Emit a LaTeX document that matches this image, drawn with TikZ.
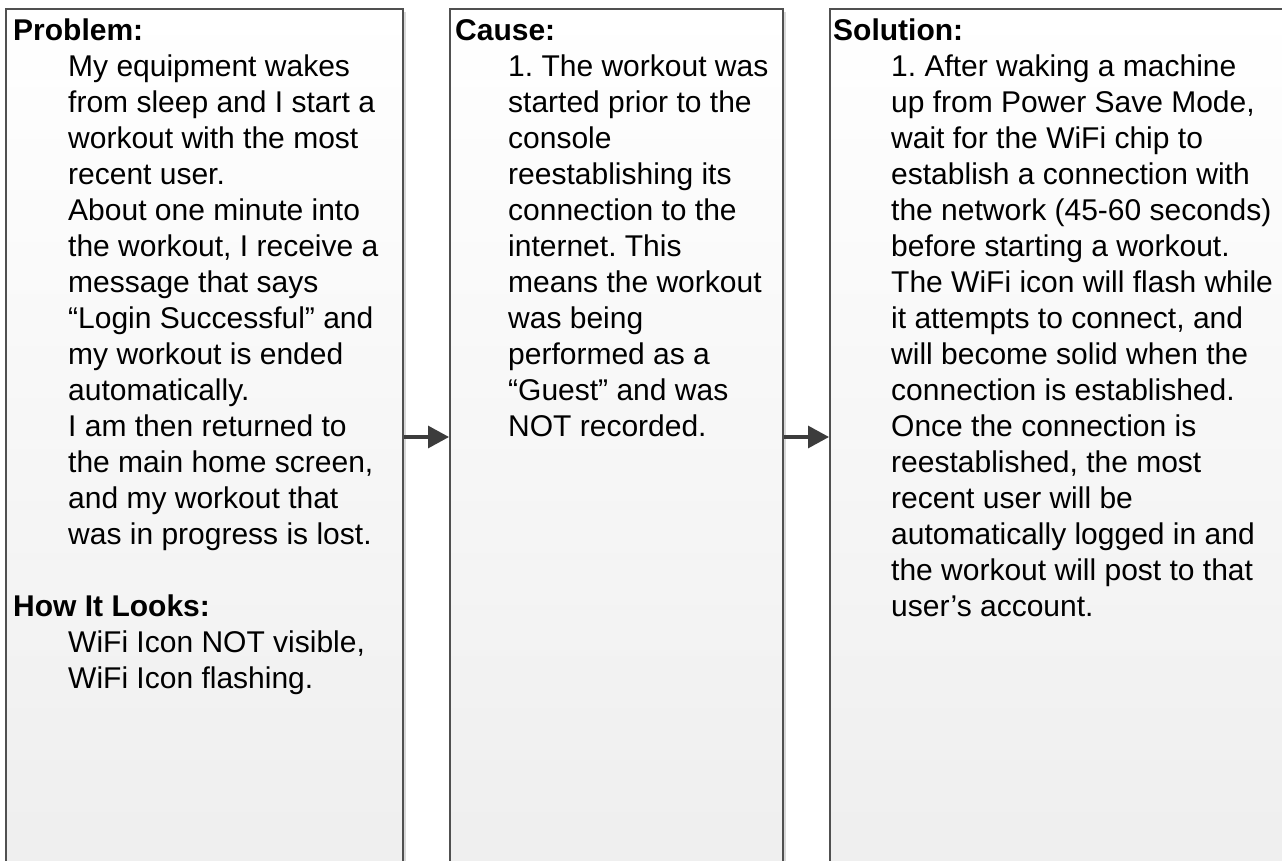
\documentclass[tikz,border=0pt]{standalone}
\usepackage{fontspec}
\setmainfont{Liberation Sans}
\usetikzlibrary{arrows.meta,shadows}
\definecolor{boxline}{HTML}{505050}
\definecolor{boxbot}{HTML}{EEEEEE}
\definecolor{arrowc}{HTML}{3C3C3C}
\frenchspacing
\begin{document}
\begin{tikzpicture}[x=1pt,y=-1pt,
  panel/.style={rectangle, draw=boxline, line width=2pt, top color=white, bottom color=boxbot,
    inner sep=0pt, anchor=north west, minimum height=880pt,
    drop shadow={shadow xshift=3pt, shadow yshift=-3pt, fill=black, opacity=0.15}},
  head/.style={anchor=base west, inner sep=0pt, font=\fontsize{30}{36}\selectfont\bfseries},
  body/.style={anchor=base west, inner sep=0pt, font=\fontsize{30}{36}\selectfont},
  arr/.style={draw=arrowc, line width=3.2pt, -{Triangle[length=21pt,width=22pt]}}]
\useasboundingbox (0,0) rectangle (1282,861);
\clip (0,0) rectangle (1282,861);
\fill[white] (0,0) rectangle (1282,861);

\node[panel, minimum width=397pt] (b1) at (5,8) {};
\node[panel, minimum width=333pt] (b2) at (449,8) {};
\node[panel, minimum width=480pt] (b3) at (829,8) {};

\node[head] (h1) at (13,40.5) {Problem:};
\node[body] (t1) at (68,76.5) {\parbox[t]{500pt}{\raggedright
My equipment wakes\\
from sleep and I start a\\
workout with the most\\
recent user.\\
About one minute into\\
the workout, I receive a\\
message that says\\
“Login Successful” and\\
my workout is ended\\
automatically.\\
I am then returned to\\
the main home screen,\\
and my workout that\\
was in progress is lost.}};
\node[head] (h1b) at (13,616.5) {How It Looks:};
\node[body] (t1b) at (68,652.5) {\parbox[t]{500pt}{\raggedright
WiFi Icon NOT visible,\\
WiFi Icon flashing.}};

\node[head] (h2) at (455,40.5) {Cause:};
\node[body] (t2) at (508,76.5) {\parbox[t]{500pt}{\raggedright
1. The workout was\\
started prior to the\\
console\\
reestablishing its\\
connection to the\\
internet. This\\
means the workout\\
was being\\
performed as a\\
“Guest” and was\\
NOT recorded.}};

\node[head] (h3) at (833,40.5) {Solution:};
\node[body] (t3) at (891,76.5) {\parbox[t]{500pt}{\raggedright
1. After waking a machine\\
up from Power Save Mode,\\
wait for the WiFi chip to\\
establish a connection with\\
the network (45-60 seconds)\\
before starting a workout.\\
The WiFi icon will flash while\\
it attempts to connect, and\\
will become solid when the\\
connection is established.\\
Once the connection is\\
reestablished, the most\\
recent user will be\\
automatically logged in and\\
the workout will post to that\\
user’s account.}};

\coordinate (ay) at (0,437);
\draw[arr] (b1.east |- ay) -- (b2.west |- ay);
\draw[arr] (b2.east |- ay) -- (b3.west |- ay);
\end{tikzpicture}
\end{document}
